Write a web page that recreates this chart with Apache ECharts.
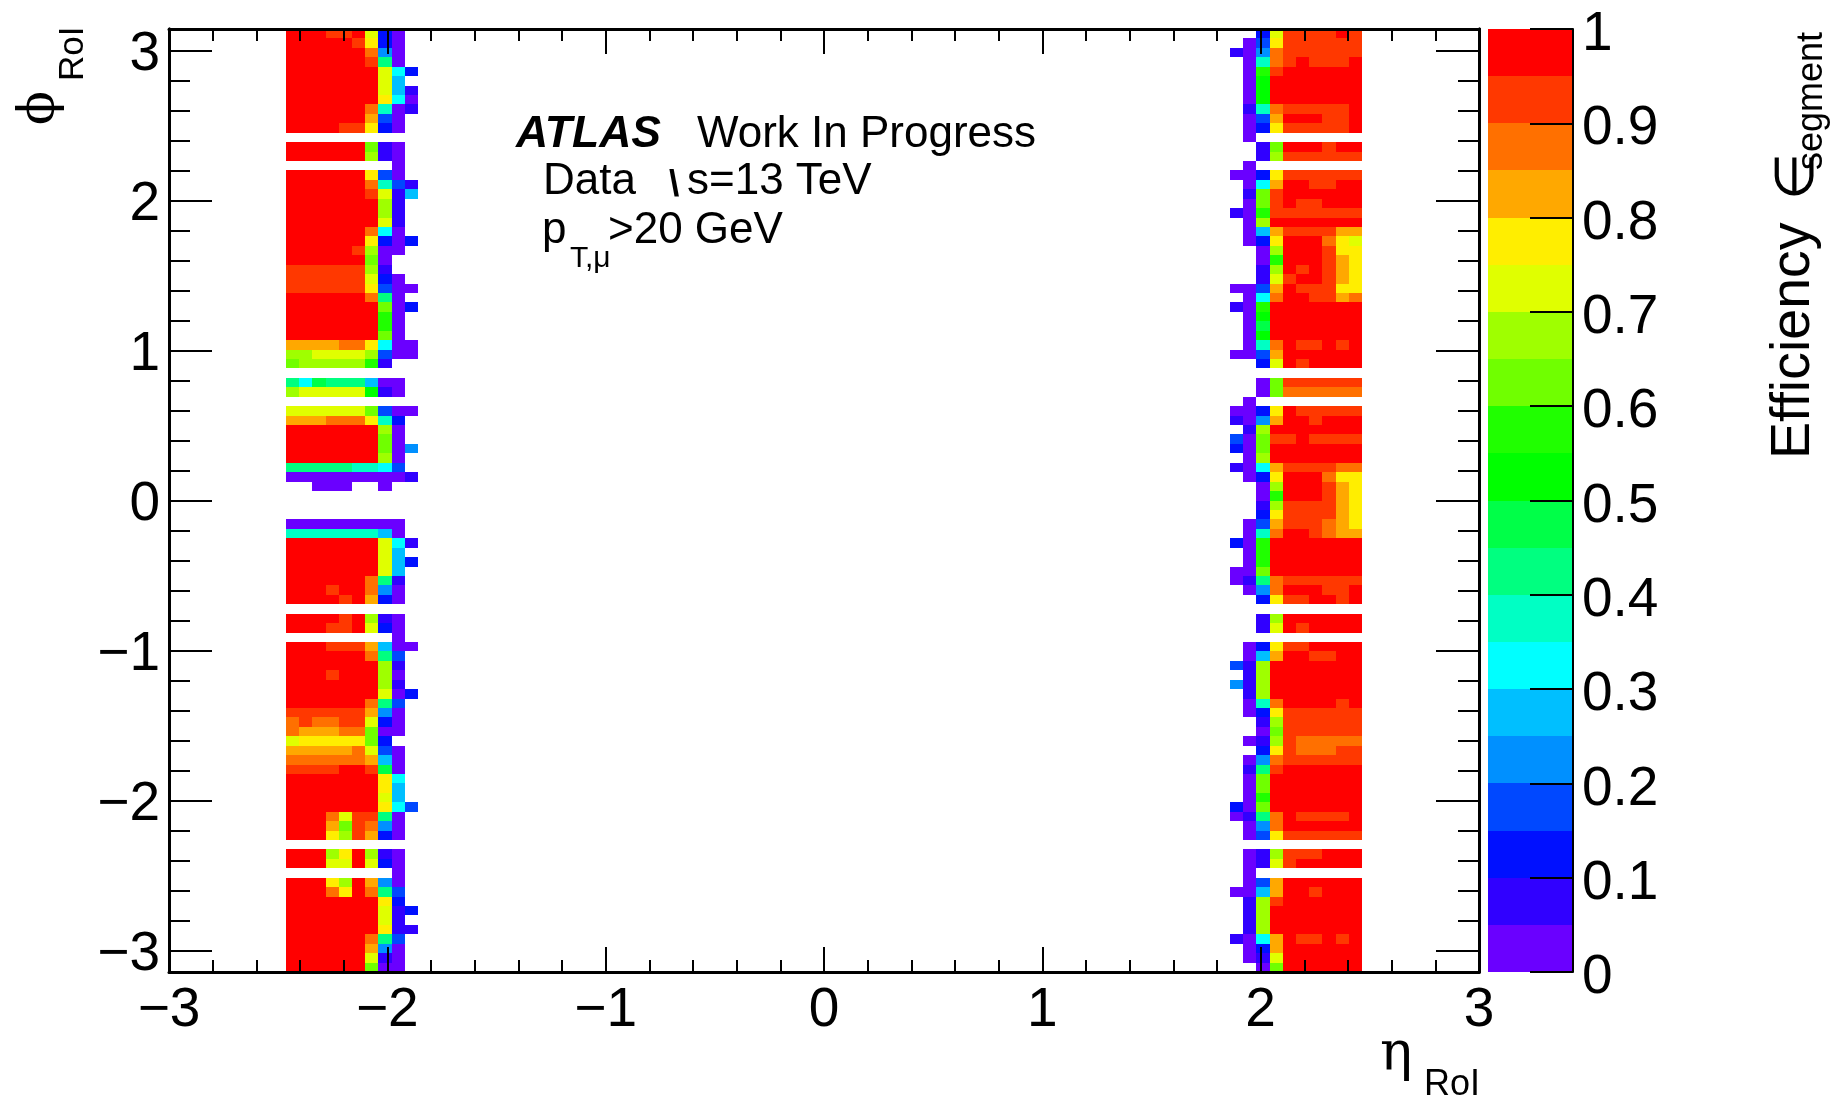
<!DOCTYPE html>
<html><head><meta charset="utf-8">
<style>html,body{margin:0;padding:0;background:#fff}#c{width:1838px;height:1098px}</style>
<script src="https://cdn.jsdelivr.net/npm/echarts@6/dist/echarts.min.js"></script>
</head><body><div id="c"></div>
<script>
const _ = null;
// efficiency in percent, each value the centre of a 5% colour band. Rows run from phi=+pi (top) to phi=-pi (bottom).
const leftRows = [
[97,97,97,92,92,97,72,12,2,_],[97,97,97,97,97,92,77,12,2,_],[97,97,97,97,97,97,87,22,2,_],[97,97,97,97,97,97,92,42,2,_],
[97,97,97,97,97,97,97,72,32,12],[97,97,97,97,97,97,97,72,27,_],[97,97,97,97,97,97,97,72,27,7],[97,97,97,97,97,97,97,77,32,2],
[97,97,97,97,97,97,87,37,2,7],[97,97,97,97,97,97,82,17,2,_],[97,97,97,97,92,92,77,12,2,_],[_,_,_,_,_,_,_,_,_,_],
[97,97,97,97,97,97,62,7,2,_],[97,97,97,97,97,97,67,7,2,_],[_,_,_,_,_,_,_,_,2,_],[97,97,97,97,97,97,77,17,2,_],
[97,97,97,97,97,97,87,37,17,7],[97,97,97,97,97,97,92,72,7,27],[97,97,97,97,97,97,97,67,7,_],[97,97,97,97,97,97,97,67,7,_],
[97,97,97,97,97,97,97,72,7,_],[97,97,97,97,97,97,87,32,2,_],[97,97,97,97,97,97,77,12,2,12],[97,97,97,97,97,92,67,2,2,_],
[97,97,97,97,97,97,62,2,_,_],[92,92,92,92,92,92,67,7,_,_],[92,92,92,92,92,92,72,12,2,_],[92,92,92,92,92,92,77,17,2,2],
[97,97,97,97,97,97,87,42,2,_],[97,97,97,97,97,97,97,62,2,12],[97,97,97,97,97,97,97,57,2,_],[97,97,97,97,97,97,97,57,2,_],
[97,97,97,97,97,97,97,62,2,_],[82,82,82,82,87,87,77,32,2,2],[67,67,72,72,72,72,67,17,2,2],[62,67,67,67,67,67,57,7,_,_],
[_,_,_,_,_,_,_,_,_,_],[42,32,47,42,42,42,27,2,2,_],[67,72,72,72,72,72,52,7,2,_],[_,_,_,_,_,_,_,_,_,_],
[72,72,72,72,72,72,62,17,2,2],[82,82,82,87,87,87,77,37,12,_],[97,97,97,97,97,97,97,67,2,_],[97,97,97,97,97,97,97,62,2,_],
[97,97,97,97,97,97,97,62,2,22],[97,97,97,97,97,97,97,67,2,_],[42,42,42,42,42,37,37,32,17,_],[2,2,2,2,2,2,2,2,2,7],
[_,_,2,2,2,_,_,2,_,_],[_,_,_,_,_,_,_,_,_,_],[_,_,_,_,_,_,_,_,_,_],[_,_,_,_,_,_,_,_,_,_],
[2,2,2,2,2,2,2,2,2,_],[37,37,37,37,37,37,37,27,2,_],[97,97,97,97,97,97,97,72,32,7],[97,97,97,97,97,97,97,72,27,_],
[97,97,97,97,97,97,97,72,27,12],[97,97,97,97,97,97,97,72,27,_],[97,97,97,97,97,97,87,42,7,_],[97,97,97,92,97,97,87,22,2,_],
[97,97,97,97,92,97,82,12,2,_],[_,_,_,_,_,_,_,_,_,_],[97,97,97,97,92,97,67,7,2,_],[97,97,97,92,92,97,72,12,2,_],
[_,_,_,_,_,_,_,_,2,_],[97,97,97,92,92,92,82,27,2,2],[97,97,97,97,97,97,87,42,17,_],[97,97,97,97,97,97,97,67,7,_],
[97,97,97,92,97,97,97,67,2,_],[97,97,97,97,97,97,97,67,7,_],[97,97,97,97,97,97,97,72,2,12],[97,97,97,97,97,97,87,42,17,_],
[92,92,92,92,92,92,82,22,2,_],[87,92,87,87,92,92,72,12,2,_],[87,82,82,82,87,87,62,2,2,_],[72,77,77,77,77,77,62,12,_,_],
[82,82,82,82,82,87,72,17,2,_],[87,87,87,87,87,87,82,27,2,_],[92,92,92,92,97,97,92,47,2,_],[97,97,97,97,97,97,97,77,32,_],
[97,97,97,97,97,97,97,77,27,_],[97,97,97,97,97,97,97,72,27,_],[97,97,97,97,97,97,97,77,32,17],[97,97,97,87,72,92,92,42,2,_],
[97,97,97,82,62,92,87,22,2,_],[97,97,97,77,67,92,82,12,2,_],[_,_,_,_,_,_,_,_,_,_],[97,97,97,67,77,97,67,7,2,_],
[97,97,97,72,72,97,72,12,2,_],[_,_,_,_,_,_,_,_,2,_],[97,97,97,77,67,97,82,22,2,_],[97,97,97,87,77,97,87,42,17,_],
[97,97,97,97,97,97,97,77,12,_],[97,97,97,97,97,97,97,72,7,12],[97,97,97,97,97,97,97,72,7,_],[97,97,97,97,97,97,97,77,7,7],
[97,97,97,97,97,97,87,42,17,_],[97,97,97,97,97,97,82,22,2,_],[97,97,97,97,97,97,72,7,2,_],[97,97,97,97,97,97,62,2,2,_]
];
const rightRows = [
[_,_,12,72,92,92,92,92,97,92],[_,2,17,77,92,92,92,92,92,92],[7,2,22,87,92,92,92,92,92,92],[_,2,37,87,92,97,92,92,92,97],
[_,2,57,92,97,97,97,97,97,97],[_,2,52,97,97,97,97,97,97,97],[_,2,52,97,97,97,97,97,97,97],[_,2,52,97,97,97,97,97,97,97],
[_,7,37,87,92,92,92,92,92,97],[_,2,17,82,97,97,97,92,92,97],[_,2,12,77,92,92,92,92,92,97],[_,2,_,_,_,_,_,_,_,_],
[_,_,7,62,97,97,97,92,97,97],[_,_,7,67,92,92,92,92,92,92],[_,2,_,_,_,_,_,_,_,_],[2,2,12,77,92,92,92,92,92,92],
[_,2,32,82,97,97,92,92,97,97],[_,7,62,92,97,97,97,97,97,97],[_,2,62,92,97,92,92,97,97,97],[7,2,57,92,92,92,92,92,92,92],
[_,2,67,97,97,97,97,97,97,97],[_,2,27,82,92,92,92,92,82,82],[_,2,12,77,97,97,97,87,77,72],[_,_,2,67,97,97,97,92,77,77],
[_,_,2,57,97,97,97,92,82,77],[_,_,7,67,97,92,97,92,82,77],[_,_,7,72,92,97,97,92,82,77],[2,2,17,82,97,92,92,92,77,77],
[_,2,32,87,97,97,92,92,82,87],[7,2,57,97,97,97,97,97,97,97],[_,2,52,97,97,97,97,97,97,97],[_,2,47,97,97,97,97,97,97,97],
[_,2,52,97,97,97,97,97,97,97],[_,2,37,87,97,92,92,97,92,97],[2,2,17,82,97,97,97,97,97,97],[_,_,12,72,97,92,97,97,97,97],
[_,_,_,_,_,_,_,_,_,_],[_,_,2,62,92,92,92,92,92,92],[_,_,2,62,87,87,87,87,87,87],[_,2,_,_,_,_,_,_,_,_],
[2,2,12,77,97,92,92,92,92,92],[7,2,22,82,97,97,92,97,97,97],[_,7,67,97,97,97,97,97,97,97],[17,2,62,92,92,97,92,92,92,92],
[12,2,62,97,97,97,97,97,97,97],[_,2,67,97,97,97,97,97,97,97],[7,2,32,82,92,92,92,92,87,87],[_,2,12,77,97,97,97,87,77,77],
[_,_,2,67,97,97,97,92,82,77],[_,_,2,57,97,97,97,92,82,77],[_,_,7,67,92,92,92,92,82,77],[_,_,12,77,92,92,92,92,82,77],
[_,2,17,82,92,92,92,87,82,77],[_,2,37,87,97,97,92,87,82,82],[12,2,57,97,97,97,97,97,97,97],[_,2,57,97,97,97,97,97,97,97],
[_,2,57,97,97,97,97,97,97,97],[2,2,62,97,97,97,97,97,97,97],[2,7,42,87,92,92,92,92,92,92],[_,2,22,87,97,97,97,92,92,97],
[_,_,12,77,92,92,97,97,92,97],[_,_,_,_,_,_,_,_,_,_],[_,_,7,67,97,97,97,97,97,97],[_,_,7,72,97,92,97,97,97,97],
[_,_,_,_,_,_,_,_,_,_],[_,2,12,77,92,92,97,97,97,97],[_,2,27,82,97,97,92,92,97,97],[17,7,67,97,97,97,97,97,97,97],
[_,7,67,97,97,97,97,97,97,97],[22,7,67,97,97,97,97,97,97,97],[_,7,67,97,97,97,97,97,97,97],[_,2,37,87,97,97,97,97,92,97],
[_,2,12,77,92,92,92,92,92,92],[_,_,7,67,92,92,92,92,92,92],[_,_,2,62,92,92,92,92,92,92],[_,2,7,67,92,87,87,87,87,87],
[_,_,12,77,92,87,87,87,92,92],[_,2,22,87,92,92,92,92,92,92],[_,7,42,92,97,97,97,97,97,97],[_,2,62,97,97,97,97,97,97,97],
[_,2,62,97,97,97,97,97,97,97],[_,2,57,97,97,97,97,97,97,97],[12,2,62,97,97,97,97,97,97,97],[2,7,42,87,97,92,92,92,92,97],
[_,2,22,87,97,97,97,97,97,97],[_,2,17,77,92,92,92,92,92,92],[_,_,_,_,_,_,_,_,_,_],[_,2,7,67,92,92,92,97,97,97],
[_,2,7,72,92,97,97,97,97,97],[_,2,_,_,_,_,_,_,_,_],[_,2,17,82,97,97,97,97,97,97],[2,2,27,82,97,97,92,97,97,97],
[_,7,67,92,97,97,97,97,97,97],[_,7,67,97,97,97,97,97,97,97],[_,7,67,97,97,97,97,97,97,97],[_,7,67,97,97,97,97,97,97,97],
[7,2,32,82,97,92,92,97,92,97],[_,2,12,82,97,97,97,97,97,97],[_,2,7,72,97,97,97,97,97,97],[_,_,2,62,97,97,97,97,97,97]
];
const bandColors = ['#6a00ff','#3000ff','#0010ff','#0048ff','#0090ff','#00bfff','#00ffff','#00ffc4','#00ff80','#00ff48',
  '#00ff00','#20ff00','#70ff00','#9fff00','#e0ff00','#ffee00','#ffa800','#ff7000','#ff3800','#ff0000'];
const etaEdgeLeft = -2.464, etaEdgeRight = 1.859, etaBin = 0.0605, phiBins = 100;
const xMajor = [-3,-2,-1,0,1,2,3];
const yMajor = [-3,-2,-1,0,1,2,3];
const zTicks = [0,0.1,0.2,0.3,0.4,0.5,0.6,0.7,0.8,0.9,1];

const PI = Math.PI, phiBin = 2*PI/phiBins;
const cells = [];
function addSide(rows, start){
  rows.forEach((row,r)=>row.forEach((v,c)=>{
    if(v===null) return;
    const hi = PI - r*phiBin;
    cells.push([start+c*etaBin, start+(c+1)*etaBin, hi-phiBin, hi, v]);
  }));
}
addSide(leftRows, etaEdgeLeft);
addSide(rightRows, etaEdgeRight);
const bands = bandColors.map((_c,i)=>[0,1,i*0.05,(i+1)*0.05,i*5+2]);

function rectItem(params, api){
  const a = api.coord([api.value(0), api.value(3)]);
  const b = api.coord([api.value(1), api.value(2)]);
  const x = Math.round(a[0]), y = Math.round(a[1]);
  return {type:'rect',
    shape:{x, y, width:Math.round(b[0])-x, height:Math.round(b[1])-y},
    style:{fill:bandColors[Math.min(19,Math.floor(api.value(4)/5))]}};
}
const minorY = [];
for(let i=-15;i<=15;i++) if(i%5!==0) minorY.push(i/5);
const fontFam = '"Liberation Sans",Arial,sans-serif';
const lbl = {fontFamily:fontFam,fontSize:55,color:'#000'};
const fmt = v=>String(v).replace('-','\u2212');
const line = {show:true,onZero:false,lineStyle:{color:'#000',width:3}};
function xA(pos,showLab){return {type:'value',gridIndex:0,position:pos,min:-3,max:3,interval:1,z:10,splitLine:{show:false},
  axisLine:line,axisTick:{show:true,inside:true,length:25,lineStyle:{color:'#000',width:2}},
  minorTick:{show:true,splitNumber:5,length:12,lineStyle:{color:'#000',width:2}},
  axisLabel:Object.assign({show:showLab,margin:11,formatter:fmt,hideOverlap:false,showMinLabel:true,showMaxLabel:true},lbl)};}
function yA(pos,vals,len,showLab){return {type:'value',gridIndex:0,position:pos,min:-PI,max:PI,z:10,splitLine:{show:false},
  axisLine:line,axisTick:{show:true,inside:true,length:len,customValues:vals,lineStyle:{color:'#000',width:2}},
  axisLabel:{show:showLab,margin:9,customValues:vals,hideOverlap:false,formatter:v=>'{a|'+fmt(v)+'}',
    rich:{a:Object.assign({padding:[9,0,0,0]},lbl)}}};}

function bt(text,x,y,size,opts){ // baseline-anchored horizontal text
  opts=opts||{};
  return {type:'text',x:x,y:y-0.3*size,z:20,style:{text,fill:'#000',font:(opts.w||'')+' '+size+'px '+(opts.f||fontFam),
    textAlign:'left',textVerticalAlign:'middle',align:'left',verticalAlign:'middle'}};
}
function vt(text,x,y,size,opts){ // reads upward, anchored at baseline x and text start y
  opts=opts||{};
  return {type:'text',x:x-0.3*size,y:y,rotation:PI/2,z:20,style:{text,fill:'#000',font:(opts.w||'')+' '+size+'px '+(opts.f||fontFam),
    textAlign:'left',textVerticalAlign:'middle',align:'left',verticalAlign:'middle'}};
}
const serif='"DejaVu Serif",serif', serif2='"Liberation Serif",serif';
const chart = echarts.init(document.getElementById('c'),null,{renderer:'canvas'});
chart.setOption({
  animation:false,backgroundColor:'#fff',
  grid:[
    {left:169,top:29,width:1310,height:943,outerBoundsMode:'none',containLabel:false},
    {left:1488,top:29,width:85,height:943,outerBoundsMode:'none',containLabel:false}
  ],
  xAxis:[xA('bottom',true),xA('top',false),
    {type:'value',gridIndex:1,min:0,max:1,show:false}],
  yAxis:[yA('left',yMajor,43,true),yA('left',minorY,21,false),yA('right',yMajor,43,false),yA('right',minorY,21,false),
    {type:'value',gridIndex:1,position:'right',min:0,max:1,interval:0.1,z:10,splitLine:{show:false},
     axisLine:{show:true,onZero:false,lineStyle:{color:'#000',width:2}},
     axisTick:{show:true,inside:true,length:43,lineStyle:{color:'#000',width:2}},
     axisLabel:{margin:9,customValues:zTicks,hideOverlap:false,showMinLabel:true,showMaxLabel:true,
       formatter:v=>'{a|'+String(+v.toFixed(1))+'}',rich:{a:Object.assign({padding:[12,0,0,0]},lbl)}}}],
  series:[
    {type:'custom',name:'cells',xAxisIndex:0,yAxisIndex:0,data:cells,renderItem:rectItem,encode:{x:[0,1],y:[2,3]},z:2,silent:true},
    {type:'custom',name:'palette',xAxisIndex:2,yAxisIndex:4,data:bands,renderItem:rectItem,encode:{x:[0,1],y:[2,3]},z:2,silent:true}
  ],
  graphic:{elements:[
    bt('ATLAS',516,148,44.5,{w:'italic bold'}),
    bt('Work In Progress',697,148,44),
    bt('Data',543,195,44),
    bt('\\',669,197,37,{w:'bold'}),
    bt('s=13 TeV',687,195,44),
    bt('p',542,244,44),
    bt('T,\u03BC',570,268,30),
    bt('>20 GeV',608,244,44),
    bt('\u03B7',1380,1072,54,{f:serif}),
    bt('RoI',1424,1096,36),
    vt('\u03D5',55,125,50,{f:serif}),
    vt('RoI',84,81,35),
    vt('Efficiency',1810,459,55.5),
    vt('\u2208',1815,200,54,{f:serif2}),
    vt('segment',1823,170,36)
  ]}
});
</script></body></html>
